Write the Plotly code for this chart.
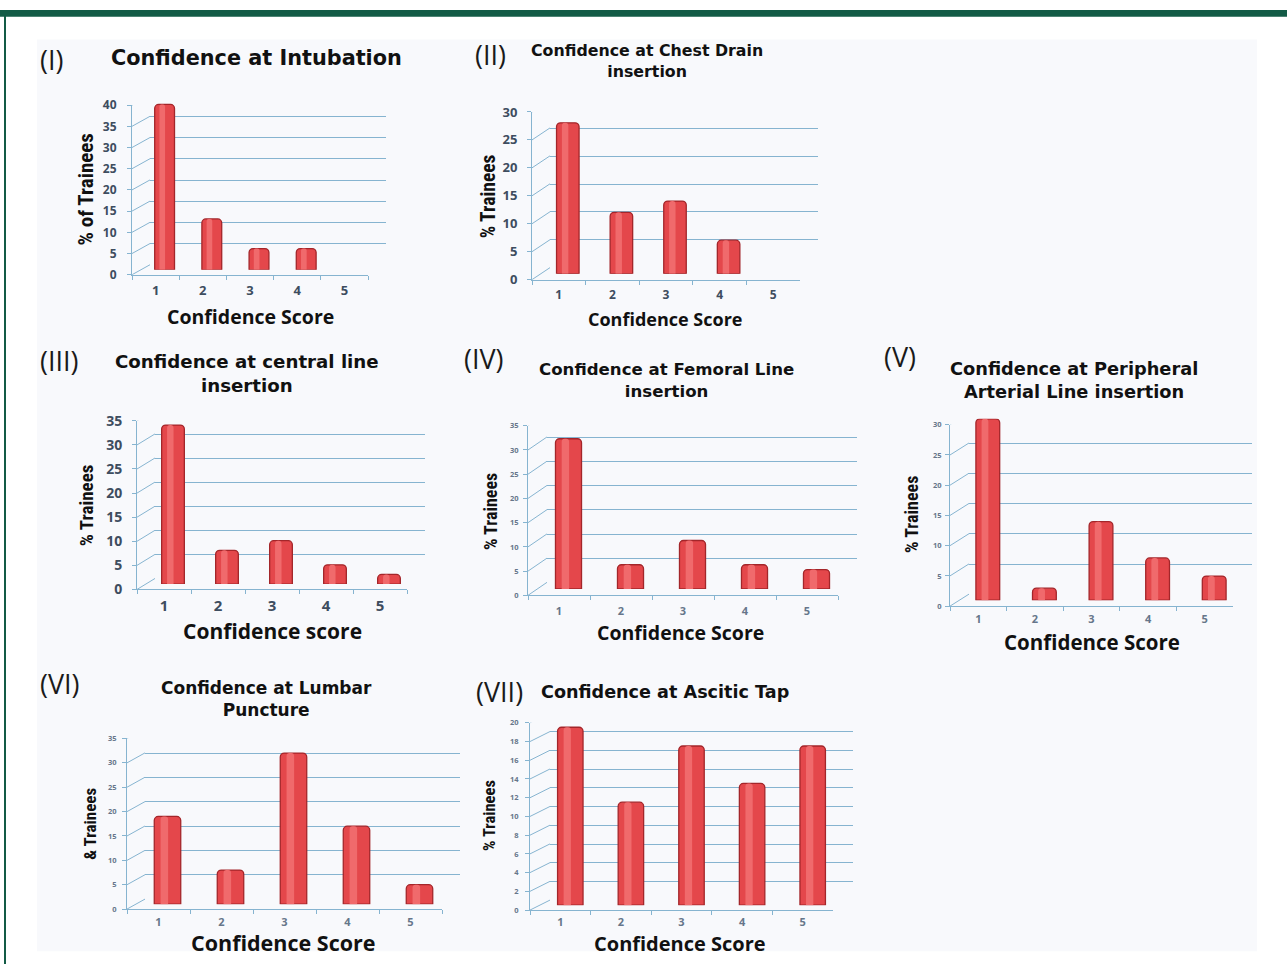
import plotly.graph_objects as go

W, H = 1287, 973

# ---- data -----------------------------------------------------------------
scores = ["1", "2", "3", "4", "5"]

intubation = [39, 12, 5, 5, 0]
chest_drain = [27, 11, 13, 6, 0]
central_line = [33, 7, 9, 4, 2]
femoral_line = [31, 5, 10, 5, 4]
arterial_line = [30, 2, 13, 7, 4]
lumbar_puncture = [18, 7, 31, 16, 4]
ascitic_tap = [19, 11, 17, 13, 17]

series = [intubation, chest_drain, central_line, femoral_line,
          arterial_line, lumbar_puncture, ascitic_tap]

y_max = [40, 30, 35, 35, 30, 35, 20]
y_step = [5, 5, 5, 5, 5, 5, 2]

panel_labels = ["(I)", "(II)", "(III)", "(IV)", "(V)", "(VI)", "(VII)"]
titles = [
    "Confidence at Intubation",
    "Confidence at Chest Drain<br>insertion",
    "Confidence at central line<br>insertion",
    "Confidence at Femoral Line<br>insertion",
    "Confidence at Peripheral<br>Arterial Line insertion",
    "Confidence at Lumbar<br>Puncture",
    "Confidence at Ascitic Tap",
]
y_titles = ["% of Trainees", "% Trainees", "% Trainees", "% Trainees",
            "% Trainees", "& Trainees", "% Trainees"]
x_titles = ["Confidence Score", "Confidence Score", "Confidence score",
            "Confidence Score", "Confidence Score", "Confidence Score",
            "Confidence Score"]

# ---- page geometry (pixels) -------------------------------------------------
# fx: front floor left/right, fy: top/zero of the value axis, d: depth offset
frames = [
    dict(fx=(132, 368), fy=(97, 270), d=(18, 10), tick=12, cat=13, gap=8, cgap=4,
         lab=(51, 50), title=(256, 49), tsize=20.8,
         yt=(86, 183), ytsize=21, xt=(250, 313), xtsize=19.5, faint=False),
    dict(fx=(532, 800), fy=(104, 275), d=(18, 12), tick=13, cat=12, gap=7, cgap=4,
         lab=(490, 45), title=(647, 52.5), tsize=15.8,
         yt=(488, 190), ytsize=19.5, xt=(665, 315), xtsize=18, faint=False),
    dict(fx=(137, 407), fy=(419, 591), d=(18, 11), tick=14, cat=15, gap=7, cgap=3,
         lab=(59, 357), title=(247, 370.5), tsize=18.2,
         yt=(86, 505), ytsize=19, xt=(272, 633), xtsize=21, faint=False),
    dict(fx=(528, 838), fy=(424, 597), d=(19, 13), tick=7.5, cat=11, gap=3, cgap=5,
         lab=(484, 355), title=(666, 377.5), tsize=16.6,
         yt=(490, 512), ytsize=18, xt=(680, 635), xtsize=19.5, faint=True),
    dict(fx=(950, 1233), fy=(423, 608), d=(19, 12), tick=7.5, cat=11, gap=2, cgap=3,
         lab=(900, 353), title=(1074, 377.5), tsize=17.8,
         yt=(912, 515), ytsize=18, xt=(1092, 645), xtsize=20.5, faint=True),
    dict(fx=(127, 442), fy=(743, 917), d=(18, 10), tick=7.5, cat=11, gap=4, cgap=3,
         lab=(60, 687), title=(266, 703), tsize=17,
         yt=(90, 830), ytsize=17, xt=(283, 951), xtsize=21.5, faint=True),
    dict(fx=(530, 833), fy=(727, 918), d=(20, 10), tick=7.5, cat=11, gap=5, cgap=2,
         lab=(499, 695), title=(665, 696), tsize=17.6,
         yt=(490, 822), ytsize=16.5, xt=(680, 952), xtsize=20, faint=True),
]

GRID = "#86b4d0"
BAR = "#e4474b"
BAR_EDGE = "#a3262a"
BAR_LIGHT = "#f06a6c"
TEXT_FONT = "Open Sans"
TITLE_FONT = "DejaVu Sans"
NARROW_FONT = "Liberation Sans Narrow, Roboto Condensed, Roboto"


def px_x(a, b):
    return [a / W, b / W]


def px_y(top, bottom):
    return [1 - bottom / H, 1 - top / H]


def ax_name(k):
    return "" if k == 1 else str(k)


fig = go.Figure()
layout = {}
shapes = []
annotations = []

for p, (vals, fr) in enumerate(zip(series, frames)):
    back, bars, front = 3 * p + 1, 3 * p + 2, 3 * p + 3
    fx0, fx1 = fr["fx"]
    ftop, fzero = fr["fy"]
    dx, dy = fr["d"]
    ymax, step = y_max[p], y_step[p]
    yticks = list(range(0, ymax + 1, step))
    tick_col = "#66768a" if fr["faint"] else "#3e4d5f"

    # back wall: horizontal gridlines
    layout["xaxis" + ax_name(back)] = dict(
        domain=px_x(fx0 + dx, fx1 + dx), anchor="y" + ax_name(back),
        type="category", categoryarray=scores, range=[-0.5, 4.5],
        showgrid=False, showline=False, zeroline=False, showticklabels=False,
        ticks="", fixedrange=True)
    layout["yaxis" + ax_name(back)] = dict(
        domain=px_y(ftop - dy, fzero - dy), anchor="x" + ax_name(back),
        range=[-0.0005 * ymax, ymax * 1.0005], tickvals=yticks,
        showgrid=True, gridcolor=GRID, gridwidth=1, showline=False,
        zeroline=False, showticklabels=False, ticks="", fixedrange=True)
    fig.add_trace(go.Scatter(x=scores, y=vals, mode="none", hoverinfo="skip",
                             showlegend=False, xaxis="x" + ax_name(back),
                             yaxis="y" + ax_name(back)))

    # columns, placed halfway into the depth of the box
    layout["xaxis" + ax_name(bars)] = dict(
        domain=px_x(fx0 + dx / 2, fx1 + dx / 2), anchor="y" + ax_name(bars),
        type="category", categoryarray=scores, range=[-0.5, 4.5],
        visible=False, fixedrange=True)
    layout["yaxis" + ax_name(bars)] = dict(
        domain=px_y(ftop - dy / 2, fzero - dy / 2), anchor="x" + ax_name(bars),
        range=[0, ymax], visible=False, fixedrange=True)
    edge_w = [1.3 if v > 0 else 0 for v in vals]
    fig.add_trace(go.Bar(
        x=scores, y=vals, width=0.42, showlegend=False,
        marker=dict(color=BAR, line=dict(color=BAR_EDGE, width=edge_w),
                    cornerradius=4),
        xaxis="x" + ax_name(bars), yaxis="y" + ax_name(bars)))
    fig.add_trace(go.Bar(
        x=scores, y=vals, width=0.12, offset=-0.11, showlegend=False,
        marker=dict(color=BAR_LIGHT, line=dict(width=0), cornerradius=3),
        hoverinfo="skip",
        xaxis="x" + ax_name(bars), yaxis="y" + ax_name(bars)))

    # front edge: value axis, category labels, floor
    layout["xaxis" + ax_name(front)] = dict(
        domain=px_x(fx0, fx1), anchor="y" + ax_name(front),
        type="category", categoryarray=scores, range=[-0.5, 4.5],
        tickson="boundaries", ticks="outside", ticklen=4, tickcolor=GRID,
        showline=True, linecolor=GRID, linewidth=1, showgrid=False,
        zeroline=False, ticklabelstandoff=fr["cgap"],
        tickfont=dict(family=TEXT_FONT, size=fr["cat"], color=tick_col,
                      weight="bold"),
        fixedrange=True)
    layout["yaxis" + ax_name(front)] = dict(
        domain=px_y(ftop, fzero), anchor="x" + ax_name(front),
        range=[0, ymax], tickvals=yticks, ticks="outside", ticklen=4,
        tickcolor=GRID, showline=True, linecolor=GRID, linewidth=1,
        showgrid=False, zeroline=False, ticklabelstandoff=fr["gap"],
        tickfont=dict(family=TEXT_FONT, size=fr["tick"], color=tick_col,
                      weight="bold"),
        fixedrange=True)
    fig.add_trace(go.Scatter(x=scores, y=vals, mode="none", hoverinfo="skip",
                             showlegend=False, xaxis="x" + ax_name(front),
                             yaxis="y" + ax_name(front)))

    # side-wall gridlines running from each tick back to the rear wall
    for v in yticks:
        shapes.append(dict(
            type="line", xref="x" + ax_name(front), yref="y" + ax_name(front),
            xsizemode="pixel", ysizemode="pixel", xanchor=-0.5, yanchor=v,
            x0=0, y0=0, x1=dx, y1=dy, line=dict(color=GRID, width=1)))
    # right-hand edge of the floor
    shapes.append(dict(
        type="line", xref="x" + ax_name(front), yref="y" + ax_name(front),
        xsizemode="pixel", ysizemode="pixel", xanchor=4.5, yanchor=0,
        x0=0, y0=0, x1=dx, y1=dy, line=dict(color=GRID, width=1)))

    # texts
    lx, ly = fr["lab"]
    annotations.append(dict(
        text=panel_labels[p], x=lx / W, y=1 - ly / H, xref="paper", yref="paper",
        xanchor="center", yanchor="middle", showarrow=False,
        font=dict(family=TEXT_FONT, size=27, color="#1a1a1a")))
    tx, ty = fr["title"]
    annotations.append(dict(
        text=titles[p], x=tx / W, y=1 - ty / H, xref="paper", yref="paper",
        xanchor="center", yanchor="middle", showarrow=False, align="center",
        font=dict(family=TITLE_FONT, size=fr["tsize"], color="#111111",
                  weight="bold")))
    yx, yy = fr["yt"]
    annotations.append(dict(
        text=y_titles[p], x=yx / W, y=1 - yy / H, xref="paper", yref="paper",
        xanchor="center", yanchor="middle", showarrow=False, textangle=-90,
        font=dict(family=NARROW_FONT, size=fr["ytsize"], color="#111111",
                  weight="bold")))
    xx, xy = fr["xt"]
    annotations.append(dict(
        text=x_titles[p], x=xx / W, y=1 - xy / H, xref="paper", yref="paper",
        xanchor="center", yanchor="middle", showarrow=False,
        font=dict(family=TEXT_FONT, size=fr["xtsize"], color="#111111",
                  weight="bold")))

# page frame: pale panel, green band on top and thin green rule on the left
frame_shapes = [
    dict(type="rect", xref="paper", yref="paper", x0=37 / W, x1=1257 / W,
         y0=1 - 960 / H, y1=1 - 30 / H, fillcolor="#f8f9fc",
         line=dict(width=0), layer="below"),
    dict(type="rect", xref="paper", yref="paper", x0=0, x1=1, y0=1 - 7 / H,
         y1=1, fillcolor="#135b46", line=dict(width=0), layer="above"),
    dict(type="rect", xref="paper", yref="paper", x0=4 / W, x1=6 / W, y0=0,
         y1=1, fillcolor="#135b46", line=dict(width=0), layer="above"),
]

fig.update_layout(
    width=W, height=H, autosize=False,
    margin=dict(l=0, r=0, t=0, b=0),
    paper_bgcolor="white", plot_bgcolor="rgba(0,0,0,0)",
    barmode="overlay", showlegend=False,
    shapes=frame_shapes + shapes, annotations=annotations,
    **layout)

fig.write_html(
    "out.html",
    post_script="document.body.style.margin='0';"
                "document.body.style.overflow='hidden';")
